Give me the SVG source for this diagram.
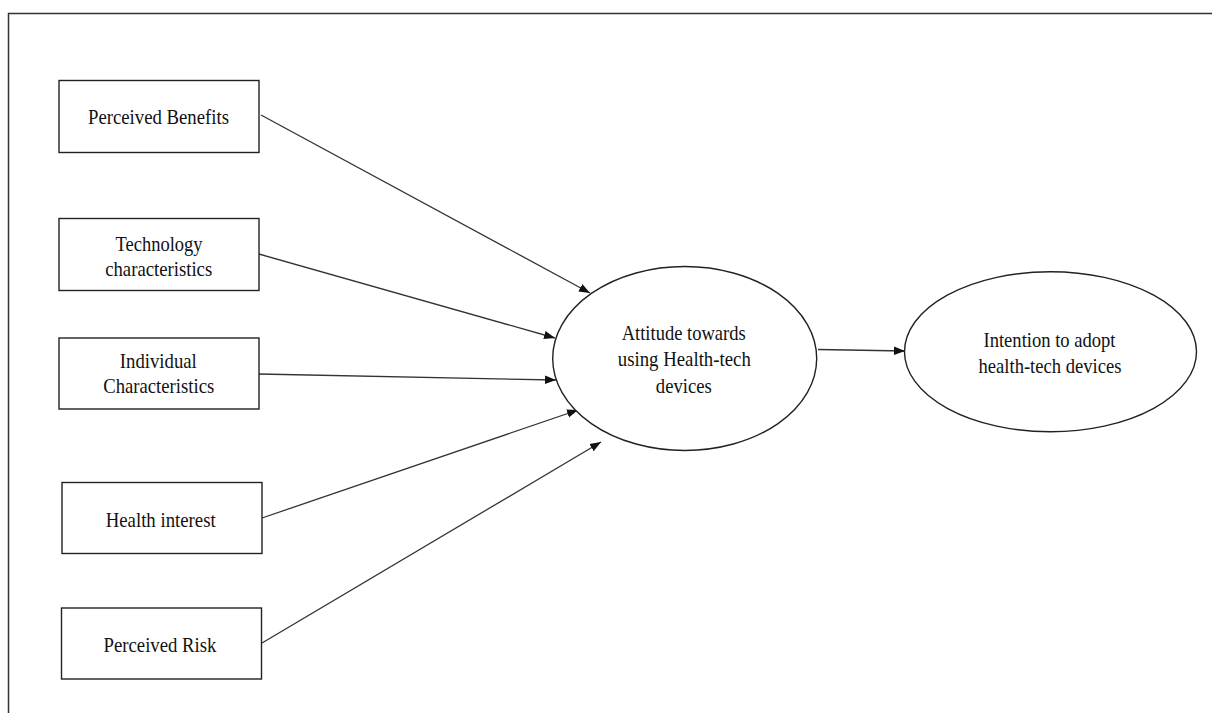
<svg xmlns="http://www.w3.org/2000/svg" width="1212" height="713" viewBox="0 0 1212 713">
<style>
.frame{fill:none;stroke:#333;stroke-width:1.5}
.box{fill:#fff;stroke:#222;stroke-width:1.4}
.ell{fill:#fff;stroke:#222;stroke-width:1.4}
.edge{fill:none;stroke:#333;stroke-width:1.3}
text{font-family:"Liberation Serif","Times New Roman",serif;font-size:21px;fill:#111;text-anchor:middle}
</style>
<defs>
<marker id="arr" markerUnits="userSpaceOnUse" markerWidth="12" markerHeight="10" refX="11" refY="5" orient="auto">
<path d="M0,0.8 L11,5 L0,9.2 Z" fill="#111"/>
</marker>
</defs>
<rect width="1212" height="713" fill="#fff"/>
<path class="frame" d="M8.5,713 V13.5 H1212"/>
<g id="connectors">
<path class="edge" d="M261,115 L590,293" marker-end="url(#arr)"/>
<path class="edge" d="M259,254 L555,338" marker-end="url(#arr)"/>
<path class="edge" d="M259,374 L556,380" marker-end="url(#arr)"/>
<path class="edge" d="M262,518 L578,410" marker-end="url(#arr)"/>
<path class="edge" d="M262,643 L601,442" marker-end="url(#arr)"/>
<path class="edge" d="M818,349.5 L905,351" marker-end="url(#arr)"/>
</g>
<g id="perceived-benefits">
<rect class="box" x="59" y="80.5" width="200" height="72"/>
<text x="158.5" y="124" textLength="141" lengthAdjust="spacingAndGlyphs">Perceived Benefits</text>
</g>
<g id="technology-characteristics">
<rect class="box" x="59" y="218.5" width="200" height="72"/>
<text x="159" y="251" textLength="87" lengthAdjust="spacingAndGlyphs">Technology</text>
<text x="158.7" y="276" textLength="107" lengthAdjust="spacingAndGlyphs">characteristics</text>
</g>
<g id="individual-characteristics">
<rect class="box" x="59" y="338" width="200" height="71"/>
<text x="158.3" y="368" textLength="77" lengthAdjust="spacingAndGlyphs">Individual</text>
<text x="158.7" y="393" textLength="111" lengthAdjust="spacingAndGlyphs">Characteristics</text>
</g>
<g id="health-interest">
<rect class="box" x="62" y="482.5" width="200" height="71"/>
<text x="160.7" y="527" textLength="110" lengthAdjust="spacingAndGlyphs">Health interest</text>
</g>
<g id="perceived-risk">
<rect class="box" x="61.5" y="608" width="200" height="71"/>
<text x="160" y="652" textLength="113" lengthAdjust="spacingAndGlyphs">Perceived Risk</text>
</g>
<g id="attitude">
<ellipse class="ell" cx="684.7" cy="358.5" rx="132" ry="92"/>
<text x="683.7" y="340" textLength="124" lengthAdjust="spacingAndGlyphs">Attitude towards</text>
<text x="684.3" y="366" textLength="133" lengthAdjust="spacingAndGlyphs">using Health-tech</text>
<text x="683.8" y="393" textLength="56" lengthAdjust="spacingAndGlyphs">devices</text>
</g>
<g id="intention">
<ellipse class="ell" cx="1050.5" cy="351.7" rx="146" ry="80"/>
<text x="1049.5" y="347" textLength="132" lengthAdjust="spacingAndGlyphs">Intention to adopt</text>
<text x="1050" y="373" textLength="143" lengthAdjust="spacingAndGlyphs">health-tech devices</text>
</g>
</svg>
